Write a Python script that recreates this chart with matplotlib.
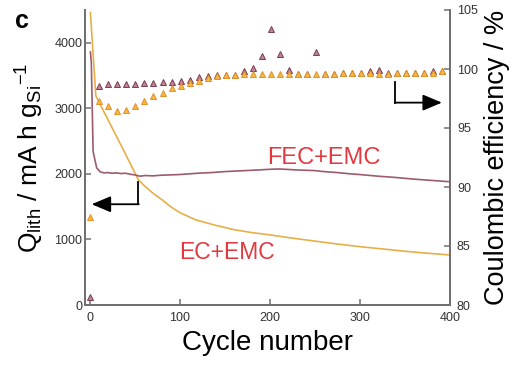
import numpy as np
import matplotlib
matplotlib.use("Agg")
import matplotlib.pyplot as plt

plt.rcParams['font.family'] = ['Liberation Sans', 'DejaVu Sans']
plt.rcParams['mathtext.fontset'] = 'custom'
plt.rcParams['mathtext.rm'] = 'Liberation Sans'
plt.rcParams['mathtext.it'] = 'Liberation Sans:italic'

# capacity, EC+EMC
cyc_ec = [1, 7, 20, 30, 40, 54, 60, 70, 81, 90, 100, 118, 140, 160, 180, 200,
          225, 250, 275, 300, 325, 350, 375, 400]
cap_ec = [4460, 3190, 2840, 2570, 2300, 1915, 1830, 1710, 1600, 1500, 1410, 1298,
          1215, 1150, 1105, 1070, 1020, 975, 930, 890, 855, 820, 790, 763]

# capacity, FEC+EMC
cyc_fec = [1, 2, 4, 8, 12, 16, 20, 25, 30, 35, 40, 45, 50, 56, 62, 70, 80, 90, 100,
           110, 120, 135, 150, 165, 180, 190, 200, 210, 220, 230, 240, 250, 260,
           275, 290, 300, 320, 340, 360, 380, 400]
cap_fec = [3860, 3700, 2340, 2090, 2030, 2015, 2020, 2010, 2015, 2005, 2010, 1995,
           1985, 1965, 1975, 1970, 1980, 1985, 1990, 2000, 2010, 2020, 2035, 2045,
           2055, 2062, 2070, 2075, 2068, 2060, 2055, 2050, 2035, 2020, 2000, 1990,
           1965, 1945, 1920, 1900, 1880]

# coulombic efficiency, every 10 cycles
cyc_ce = list(range(1, 400, 10))
ce_fec = [80.65, 98.6, 98.7, 98.7, 98.7, 98.7, 98.8, 98.8, 98.9, 98.9,
          99.0, 99.1, 99.3, 99.4, 99.5, 99.5, 99.5, 99.8, 100.1, 101.1,
          103.4, 101.3, 99.9, 99.6, 99.6, 101.4, 99.6, 99.6, 99.7, 99.7,
          99.7, 99.8, 99.9, 99.7, 99.7, 99.7, 99.7, 99.7, 99.8, 99.8]
ce_ec = [87.5, 97.3, 96.9, 96.4, 96.5, 96.9, 97.3, 97.7, 98.0, 98.4,
         98.6, 98.8, 99.0, 99.2, 99.4, 99.5, 99.5, 99.6, 99.6, 99.6,
         99.6, 99.6, 99.6, 99.6, 99.6, 99.6, 99.6, 99.6, 99.7, 99.7,
         99.7, 99.7, 99.6, 99.6, 99.7, 99.7, 99.7, 99.7, 99.7, 99.8]

c_ec = '#e8ae48'
c_fec = '#9c5c6c'
spine_c = '#707070'
tick_c = '#333333'

fig = plt.figure(figsize=(5.27, 3.69), dpi=100)
ax = fig.add_axes([85/527, 1-305/369, 365/527, 295/369])
ax2 = ax.twinx()

ax.plot(cyc_ec, cap_ec, color=c_ec, lw=1.2)
ax.plot(cyc_fec, cap_fec, color=c_fec, lw=1.2)

ax2.plot(cyc_ce, ce_fec, '^', ms=4.3, mfc='#c08494', mec='#7a3c50', mew=0.7, ls='none')
ax2.plot(cyc_ce, ce_ec, '^', ms=4.3, mfc='#f6b843', mec='#e0922a', mew=0.7, ls='none')

ax.set_xlim(-5, 400)
ax.set_ylim(0, 4500)
ax2.set_ylim(80, 105)
ax.set_xticks([0, 100, 200, 300, 400])
ax.set_yticks([0, 1000, 2000, 3000, 4000])
ax2.set_yticks([80, 85, 90, 95, 100, 105])

for a in (ax, ax2):
    a.spines['top'].set_visible(False)
    for s in ('left', 'right', 'bottom'):
        a.spines[s].set_color(spine_c)
        a.spines[s].set_linewidth(1.3)
    a.tick_params(direction='in', length=4, width=1.1, color=spine_c,
                  labelcolor=tick_c, labelsize=9)
ax.tick_params(axis='y', pad=2)
ax.tick_params(axis='x', pad=5)
ax2.tick_params(axis='y', pad=5)

ax.set_xlabel('Cycle number', fontsize=20, labelpad=4)
ax.set_ylabel(r'Q$_{\rm lith}$ / mA h g$_{\rm Si}$$^{-1}$', fontsize=19, labelpad=6)
ax2.set_ylabel('Coulombic efficiency / %', fontsize=19.5, labelpad=4)

ax.text(260, 2250, 'FEC+EMC', color='#e03a40', fontsize=17, ha='center', va='center')
ax.text(153, 800, 'EC+EMC', color='#e03a40', fontsize=16.5, ha='center', va='center')

# arrows pointing to their axes
ax.plot([54, 54], [1880, 1537], color='black', lw=1.3)
ax.annotate('', xy=(2.4, 1537), xytext=(54.7, 1537),
            arrowprops=dict(arrowstyle='-|>,head_length=0.9,head_width=0.38',
                            mutation_scale=13, color='black', lw=1.3,
                            shrinkA=0, shrinkB=0))
ax2.plot([339.4, 339.4], [98.9, 97.15], color='black', lw=1.3)
ax2.annotate('', xy=(391, 97.15), xytext=(338.7, 97.15),
             arrowprops=dict(arrowstyle='-|>,head_length=0.9,head_width=0.38',
                             mutation_scale=13, color='black', lw=1.3,
                             shrinkA=0, shrinkB=0))

fig.text(15/527, 1-28/369, 'c', fontsize=18, fontweight='bold')

fig.savefig('out.png', dpi=100)
